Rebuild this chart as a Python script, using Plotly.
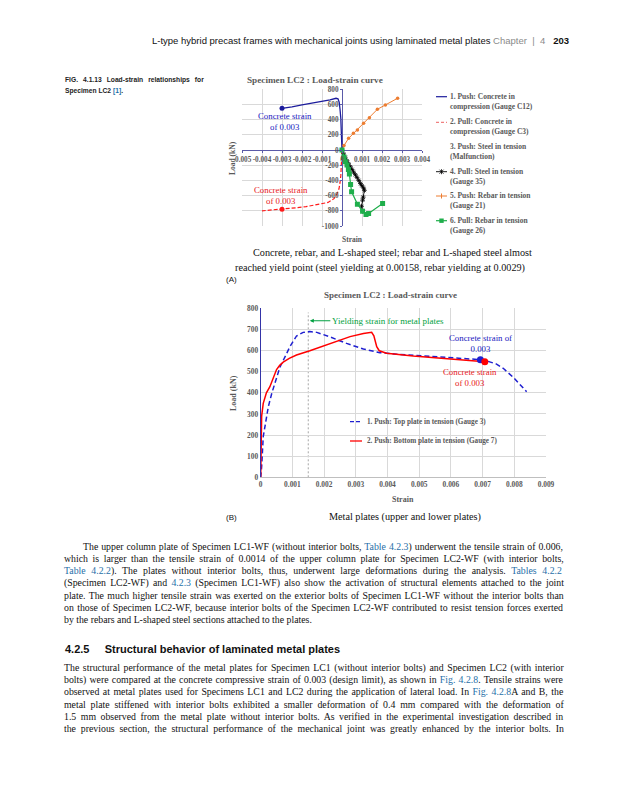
import re
import plotly.graph_objects as go

W, H = 625, 800

# ---------------- Chart (A) data : strain vs load (kN) ----------------
A_PUSH_C12_STRAIN = [0, -0.00001, -0.00003, -0.00006, -0.0001, -0.00014, -0.0002, -0.0003,
                     -0.0006, -0.001, -0.0016, -0.002, -0.0025, -0.003]
A_PUSH_C12_LOAD = [0, 120, 280, 420, 540, 630, 675, 682, 662, 640, 616, 595, 570, 550]

A_PULL_C3_STRAIN = [0, -0.00001, -0.00003, -0.00006, -0.0001, -0.00015, -0.00025, -0.0004,
                    -0.0007, -0.0013, -0.0018, -0.0023, -0.003, -0.0035, -0.004]
A_PULL_C3_LOAD = [0, -100, -230, -340, -430, -510, -580, -640, -690, -725, -745, -760, -780, -790, -800]

A_PULL_STEEL35_STRAIN = [0, 0.00008, 0.00016, 0.00025, 0.00033, 0.00042, 0.0005, 0.00058, 0.00067,
                         0.00075, 0.00084, 0.00092, 0.001, 0.00108, 0.00112, 0.00106, 0.00103,
                         0.00098, 0.00103]
A_PULL_STEEL35_LOAD = [0, -50, -95, -140, -180, -220, -255, -290, -325, -360, -400, -440, -470,
                       -500, -530, -620, -660, -740, -805]

A_PUSH_REBAR21_STRAIN = [0, 0.0001, 0.00033, 0.00057, 0.00077, 0.00108, 0.00137, 0.00177, 0.00217, 0.00278]
A_PUSH_REBAR21_LOAD = [0, 60, 154, 220, 264, 352, 426, 537, 594, 682]

A_PULL_REBAR26_STRAIN = [0, 0.0001, 0.00017, 0.00025, 0.00032, 0.00037, 0.00043, 0.00048, 0.00077,
                         0.00103, 0.0012, 0.00133, 0.00203]
A_PULL_REBAR26_LOAD = [0, -90, -154, -198, -255, -316, -453, -550, -712, -805, -848, -835, -703]

A_CS_PUSH_STRAIN, A_CS_PUSH_LOAD = [-0.003], [550]
A_CS_PULL_STRAIN, A_CS_PULL_LOAD = [-0.003], [-780]

A_X_TICKS = [-0.005, -0.004, -0.003, -0.002, -0.001, 0, 0.001, 0.002, 0.003, 0.004]
A_Y_TICKS = [-1000, -800, -600, -400, -200, 0, 200, 400, 600, 800]

A_LEGEND = [
    "1. Push: Concrete in<br>compression (Gauge C12)",
    "2. Pull: Concrete in<br>compression (Gauge C3)",
    "3. Push: Steel in tension<br>(Malfunction)",
    "4. Pull: Steel in tension<br>(Gauge 35)",
    "5. Push: Rebar in tension<br>(Gauge 21)",
    "6. Pull: Rebar in tension<br>(Gauge 26)",
]

# ---------------- Chart (B) data ----------------
B_TOP_G3_STRAIN = [0, 0.00003, 0.00008, 0.00016, 0.00024, 0.00035, 0.0005, 0.00061, 0.00077, 0.00092,
                   0.00113, 0.00134, 0.00155, 0.00177, 0.00218, 0.00271, 0.00324, 0.00376, 0.00429,
                   0.00534, 0.00639, 0.00693, 0.00715, 0.00744, 0.00765, 0.00797, 0.00839]
B_TOP_G3_LOAD = [0, 50, 192, 271, 334, 398, 476, 523, 571, 618, 669, 686, 690, 686, 665, 634, 607,
                 590, 583, 574, 563, 557, 550, 536, 516, 473, 405]

B_BOT_G7_STRAIN = [0, 0.00001, 0.00003, 0.00008, 0.00018, 0.00029, 0.0004, 0.0005, 0.0006, 0.00071,
                   0.0009, 0.00113, 0.00155, 0.00218, 0.00282, 0.00324, 0.0035, 0.00357, 0.00362,
                   0.00366, 0.00374, 0.00397, 0.00481, 0.00586, 0.00639, 0.00707]
B_BOT_G7_LOAD = [0, 200, 290, 350, 400, 429, 470, 510, 530, 545, 563, 579, 599, 634, 666, 681, 686,
                 670, 640, 618, 599, 587, 574, 563, 555, 547]

B_CS_TOP_STRAIN, B_CS_TOP_LOAD = [0.00693], [557]
B_CS_BOT_STRAIN, B_CS_BOT_LOAD = [0.00707], [547]
YIELD_STRAIN = 0.0015

B_X_TICKS = [0, 0.001, 0.002, 0.003, 0.004, 0.005, 0.006, 0.007, 0.008, 0.009]
B_Y_TICKS = [0, 100, 200, 300, 400, 500, 600, 700, 800]

B_LEGEND = ["1. Push: Top plate in tension (Gauge 3)",
            "2. Push: Bottom plate in tension (Gauge 7)"]

# ---------------- page text ----------------
LINK = "#1f6fa8"
def link(t):
    return f"<span style='color:{LINK}'>{t}</span>"

P1 = [
    "The upper column plate of Specimen LC1-WF (without interior bolts, " + link("Table 4.2.3") + ") underwent the tensile strain of 0.006,",
    "which is larger than the tensile strain of 0.0014 of the upper column plate for Specimen LC2-WF (with interior bolts,",
    link("Table 4.2.2") + "). The plates without interior bolts, thus, underwent large deformations during the analysis. " + link("Tables 4.2.2"),
    "(Specimen LC2-WF) and " + link("4.2.3") + " (Specimen LC1-WF) also show the activation of structural elements attached to the joint",
    "plate. The much higher tensile strain was exerted on the exterior bolts of Specimen LC1-WF without the interior bolts than",
    "on those of Specimen LC2-WF, because interior bolts of the Specimen LC2-WF contributed to resist tension forces exerted",
    "by the rebars and L-shaped steel sections attached to the plates.",
]
P2 = [
    "The structural performance of the metal plates for Specimen LC1 (without interior bolts) and Specimen LC2 (with interior",
    "bolts) were compared at the concrete compressive strain of 0.003 (design limit), as shown in " + link("Fig. 4.2.8") + ". Tensile strains were",
    "observed at metal plates used for Specimens LC1 and LC2 during the application of lateral load. In " + link("Fig. 4.2.8") + "A and B, the",
    "metal plate stiffened with interior bolts exhibited a smaller deformation of 0.4 mm compared with the deformation of",
    "1.5 mm observed from the metal plate without interior bolts. As verified in the experimental investigation described in",
    "the previous section, the structural performance of the mechanical joint was greatly enhanced by the interior bolts. In",
]

# ---------------- helpers ----------------
def fx(p):
    return p / W

def fy(p):
    return 1 - p / H

# Times / Liberation Serif advance widths (1/1000 em) used to justify body lines
TIMES = {" ": 250, "(": 333, ")": 333, ",": 250, "-": 333, ".": 250, ":": 278, ";": 278, "'": 333}
TIMES.update({d: 500 for d in "0123456789"})
TIMES.update(dict(zip("ABCDEFGHIJKLMNOPQRSTUVWXYZ",
                      [722, 667, 667, 722, 611, 556, 722, 722, 333, 389, 722, 611, 889, 722, 722,
                       556, 722, 667, 556, 611, 722, 722, 944, 722, 722, 611])))
TIMES.update(dict(zip("abcdefghijklmnopqrstuvwxyz",
                      [444, 500, 444, 500, 444, 333, 500, 500, 278, 278, 500, 278, 778, 500, 500,
                       500, 500, 333, 389, 278, 500, 500, 722, 500, 500, 444])))

def times_width(s, size):
    plain = re.sub(r"<[^>]+>", "", s)
    return sum(TIMES.get(c, 500) for c in plain) * size / 1000.0, plain.count(" ")

SERIF = "Liberation Serif, Times New Roman, serif"
SANS = "Liberation Sans, Arial, sans-serif"
NARROW = "Liberation Sans Narrow, Arial Narrow, Liberation Sans, sans-serif"
GRAY = "#595959"

annotations = []
shapes = []

def text(x, y, t, size, color="#000000", family=SERIF, xanchor="left", yanchor="middle",
         angle=0, align="left"):
    annotations.append(dict(x=fx(x), y=fy(y), xref="paper", yref="paper", text=t, showarrow=False,
                            xanchor=xanchor, yanchor=yanchor, textangle=angle, align=align,
                            font=dict(size=size, color=color, family=family)))

def justified(x0, x1, y, t, size):
    w, n = times_width(t, size)
    ws = (x1 - x0 - w) / n if n else 0
    text(x0, y, f"<span style='word-spacing:{ws:.2f}px'>{t}</span>", size, "#111111")

def seg(x0, y0, x1, y1, color, width=1.0, dash="solid"):
    shapes.append(dict(type="line", xref="paper", yref="paper", x0=fx(x0), y0=fy(y0), x1=fx(x1),
                       y1=fy(y1), line=dict(color=color, width=width, dash=dash)))

fig = go.Figure()

# ---------------- Chart (A) ----------------
NAVY = "#1c1c9c"
RED = "#ff1a1a"
ORANGE = "#ed7d31"
GREEN = "#1fae4b"

fig.add_trace(go.Scatter(x=A_PUSH_C12_STRAIN, y=A_PUSH_C12_LOAD, mode="lines",
                         line=dict(color=NAVY, width=1.3), xaxis="x", yaxis="y"))
fig.add_trace(go.Scatter(x=A_PULL_C3_STRAIN, y=A_PULL_C3_LOAD, mode="lines",
                         line=dict(color=RED, width=1.2, dash="4px,2px"), xaxis="x", yaxis="y"))
fig.add_trace(go.Scatter(x=A_PULL_STEEL35_STRAIN, y=A_PULL_STEEL35_LOAD, mode="lines+markers",
                         line=dict(color="#000000", width=0.9),
                         marker=dict(symbol="asterisk-open", size=4, line=dict(color="#000000", width=0.8)),
                         xaxis="x", yaxis="y"))
fig.add_trace(go.Scatter(x=A_PUSH_REBAR21_STRAIN, y=A_PUSH_REBAR21_LOAD, mode="lines+markers",
                         line=dict(color=ORANGE, width=1.0),
                         marker=dict(symbol="circle", size=3.5, color=ORANGE),
                         xaxis="x", yaxis="y"))
fig.add_trace(go.Scatter(x=A_PULL_REBAR26_STRAIN, y=A_PULL_REBAR26_LOAD, mode="lines+markers",
                         line=dict(color=GREEN, width=1.2),
                         marker=dict(symbol="square", size=5, color=GREEN),
                         xaxis="x", yaxis="y"))
fig.add_trace(go.Scatter(x=A_CS_PUSH_STRAIN, y=A_CS_PUSH_LOAD, mode="markers",
                         marker=dict(color=NAVY, size=5), xaxis="x", yaxis="y"))
fig.add_trace(go.Scatter(x=A_CS_PULL_STRAIN, y=A_CS_PULL_LOAD, mode="markers",
                         marker=dict(color=RED, size=5), xaxis="x", yaxis="y"))

A_XDOM = [fx(242), fx(422)]
A_YDOM = [fy(226), fy(89.3)]
A_XR = [A_X_TICKS[0], A_X_TICKS[-1]]
A_YR = [A_Y_TICKS[0], A_Y_TICKS[-1]]
a_y_at_zero = A_YDOM[0] + (0 - A_YR[0]) / (A_YR[1] - A_YR[0]) * (A_YDOM[1] - A_YDOM[0])
a_x_at_zero = A_XDOM[0] + (0 - A_XR[0]) / (A_XR[1] - A_XR[0]) * (A_XDOM[1] - A_XDOM[0])
AXIS_A = "#5a5aa8"
tickfont_a = dict(family=SERIF, size=7.2, color=GRAY, weight="bold")

# ---------------- Chart (B) ----------------
BLUE = "#1f1fd0"
fig.add_trace(go.Scatter(x=B_TOP_G3_STRAIN, y=B_TOP_G3_LOAD, mode="lines",
                         line=dict(color=BLUE, width=1.5, dash="5px,3px"), xaxis="x2", yaxis="y2"))
fig.add_trace(go.Scatter(x=B_BOT_G7_STRAIN, y=B_BOT_G7_LOAD, mode="lines",
                         line=dict(color="#ff0000", width=1.5), xaxis="x2", yaxis="y2"))
fig.add_trace(go.Scatter(x=B_CS_TOP_STRAIN, y=B_CS_TOP_LOAD, mode="markers",
                         marker=dict(color=BLUE, size=7), xaxis="x2", yaxis="y2"))
fig.add_trace(go.Scatter(x=B_CS_BOT_STRAIN, y=B_CS_BOT_LOAD, mode="markers",
                         marker=dict(color="#ff0000", size=7), xaxis="x2", yaxis="y2"))

shapes.append(dict(type="line", xref="x2", yref="y2", x0=YIELD_STRAIN, x1=YIELD_STRAIN, y0=0, y1=780,
                   line=dict(color="#a6a6a6", width=1, dash="2px,2px"), layer="below"))

B_XDOM = [fx(260.7), fx(546)]
B_YDOM = [fy(477.3), fy(308.3)]
tickfont_b = dict(family=SERIF, size=7.4, color=GRAY, weight="bold")

annotations.append(dict(x=0.00155, y=741, xref="x2", yref="y2", ax=78, ay=0, axref="pixel", ayref="pixel",
                        text="Yielding strain for metal plates", showarrow=True, arrowhead=2,
                        arrowsize=0.8, arrowwidth=1, arrowcolor="#00a040", standoff=0,
                        font=dict(family=SERIF, size=9, color="#00a040")))

# ---------------- chart texts ----------------
# Chart A
text(315, 80, "<b>Specimen LC2 : Load-strain curve</b>", 9.2, GRAY, xanchor="center")
text(352, 239, "<b>Strain</b>", 7.5, GRAY, xanchor="center")
text(232, 158, "<b>Load (kN)</b>", 7.5, GRAY, xanchor="center", angle=-90)
text(285, 122, "Concrete strain<br>of 0.003", 8.8, "#2020c0", xanchor="center", align="center")
text(281, 195.5, "Concrete strain<br>of 0.003", 8.8, "#e8201a", xanchor="center", align="center")

leg_y = [101.7, 127, 151.2, 176.2, 200.8, 225.3]
sym_y = [96.7, 122.3, 146.7, 171.7, 196, 220.7]
for lbl, yy in zip(A_LEGEND, leg_y):
    text(448, yy, f"<b>{lbl}</b>", 7.5, GRAY)
seg(436, sym_y[0], 447, sym_y[0], NAVY, 1.2)
seg(436, sym_y[1], 447, sym_y[1], "#f08080", 1.2, "3px,2px")
seg(436, sym_y[3], 447, sym_y[3], "#000000", 0.9)
seg(439.5, sym_y[3] - 2, 443.5, sym_y[3] + 2, "#000000", 0.8)
seg(439.5, sym_y[3] + 2, 443.5, sym_y[3] - 2, "#000000", 0.8)
seg(441.5, sym_y[3] - 2.5, 441.5, sym_y[3] + 2.5, "#000000", 0.8)
seg(436, sym_y[4], 447, sym_y[4], ORANGE, 1.0)
seg(441.5, sym_y[4] - 2.5, 441.5, sym_y[4] + 2.5, ORANGE, 1.0)
seg(436, sym_y[5], 447, sym_y[5], GREEN, 1.2)
shapes.append(dict(type="rect", xref="paper", yref="paper", x0=fx(439.3), x1=fx(443.7),
                   y0=fy(sym_y[5] + 2.2), y1=fy(sym_y[5] - 2.2), fillcolor=GREEN, line=dict(width=0)))

# Chart B
text(390, 295, "<b>Specimen LC2 : Load-strain curve</b>", 9, GRAY, xanchor="center")
text(403, 499, "<b>Strain</b>", 8, GRAY, xanchor="center")
text(233, 393, "<b>Load (kN)</b>", 8, GRAY, xanchor="center", angle=-90)
text(480, 343, "Concrete strain of<br>0.003", 8.8, "#2020c0", xanchor="center", align="center")
text(470, 378, "Concrete strain<br>of 0.003", 8.8, "#e8201a", xanchor="center", align="center")
seg(350, 421.7, 362, 421.7, BLUE, 1.3, "4px,2px")
seg(350, 441, 362, 441, "#ff0000", 1.3)
text(365, 421.7, f"<b>{B_LEGEND[0]}</b>", 7.2, GRAY)
text(365, 441, f"<b>{B_LEGEND[1]}</b>", 7.2, GRAY)

# ---------------- page texts ----------------
text(571, 40, "L-type hybrid precast frames with mechanical joints using laminated metal plates "
     "<span style='color:#8a8a8a'>Chapter  |  4</span>   <b>203</b>", 9.5, "#111111", NARROW, xanchor="right")
text(63, 80, "<b><span style='word-spacing:3.2px'>FIG. 4.1.13 Load-strain relationships for</span></b>",
     6.7, "#222222", NARROW)
text(63, 90.5, "<b>Specimen LC2 </b><span style='color:#1f6fa8'><b>[1]</b></span><b>.</b>", 6.7, "#222222", NARROW)

text(251, 253, "Concrete, rebar, and L-shaped steel; rebar and L-shaped steel almost", 10.2, "#111111")
text(233, 268, "reached yield point (steel yielding at 0.00158, rebar yielding at 0.0029)", 10.2, "#111111")
text(224, 279.5, "(A)", 8, "#111111", SANS)
text(224, 517, "(B)", 8, "#111111", SANS)
text(405, 516.5, "Metal plates (upper and lower plates)", 10.2, "#111111", xanchor="center")

BODY = 9.8
for i, line in enumerate(P1):
    y = 547 + 12.0 * i
    if i == len(P1) - 1:
        text(62, y, line, BODY, "#111111")
    else:
        justified(81 if i == 0 else 62, 562, y, line, BODY)
text(63, 649, "<b>4.2.5     Structural behavior of laminated metal plates</b>", 11, "#111111", SANS)
for i, line in enumerate(P2):
    justified(62, 562, 667.5 + 12.2 * i, line, BODY)

fig.update_layout(
    width=W, height=H, margin=dict(l=0, r=0, t=0, b=0),
    template="none", paper_bgcolor="white", plot_bgcolor="rgba(0,0,0,0)",
    showlegend=False,
    xaxis=dict(domain=A_XDOM, range=A_XR, anchor="free", position=a_y_at_zero,
               tickvals=A_X_TICKS, ticktext=[f"{v:g}" for v in A_X_TICKS], tickangle=0,
               showgrid=True, gridcolor="#d9d9d9", gridwidth=0.8,
               zeroline=True, zerolinecolor=AXIS_A, zerolinewidth=1.2, showline=False,
               ticks="outside", ticklen=2, tickcolor=AXIS_A, tickfont=tickfont_a),
    yaxis=dict(domain=A_YDOM, range=A_YR, anchor="free", position=a_x_at_zero,
               tickvals=A_Y_TICKS, ticktext=[f"{v:g}" for v in A_Y_TICKS],
               showgrid=True, gridcolor="#d9d9d9", gridwidth=0.8,
               zeroline=True, zerolinecolor=AXIS_A, zerolinewidth=1.2, showline=False,
               ticks="outside", ticklen=2, tickcolor=AXIS_A, tickfont=tickfont_a),
    xaxis2=dict(domain=B_XDOM, range=[B_X_TICKS[0], B_X_TICKS[-1]], anchor="y2",
                tickvals=B_X_TICKS, ticktext=[f"{v:g}" for v in B_X_TICKS], tickangle=0,
                showgrid=True, gridcolor="#d9d9d9", gridwidth=0.8, zeroline=False,
                showline=True, linecolor="#bfbfbf", linewidth=1, ticks="", tickfont=tickfont_b),
    yaxis2=dict(domain=B_YDOM, range=[B_Y_TICKS[0], B_Y_TICKS[-1]], anchor="x2",
                tickvals=B_Y_TICKS, ticktext=[f"{v:g}" for v in B_Y_TICKS],
                showgrid=True, gridcolor="#d9d9d9", gridwidth=0.8, zeroline=False,
                showline=True, linecolor="#3434a8", linewidth=1.2, ticks="", tickfont=tickfont_b),
    annotations=annotations,
    shapes=shapes,
)

fig.write_html("out.html", config={"displayModeBar": False},
               post_script="document.body.style.margin='0px';document.body.style.overflow='hidden';")
